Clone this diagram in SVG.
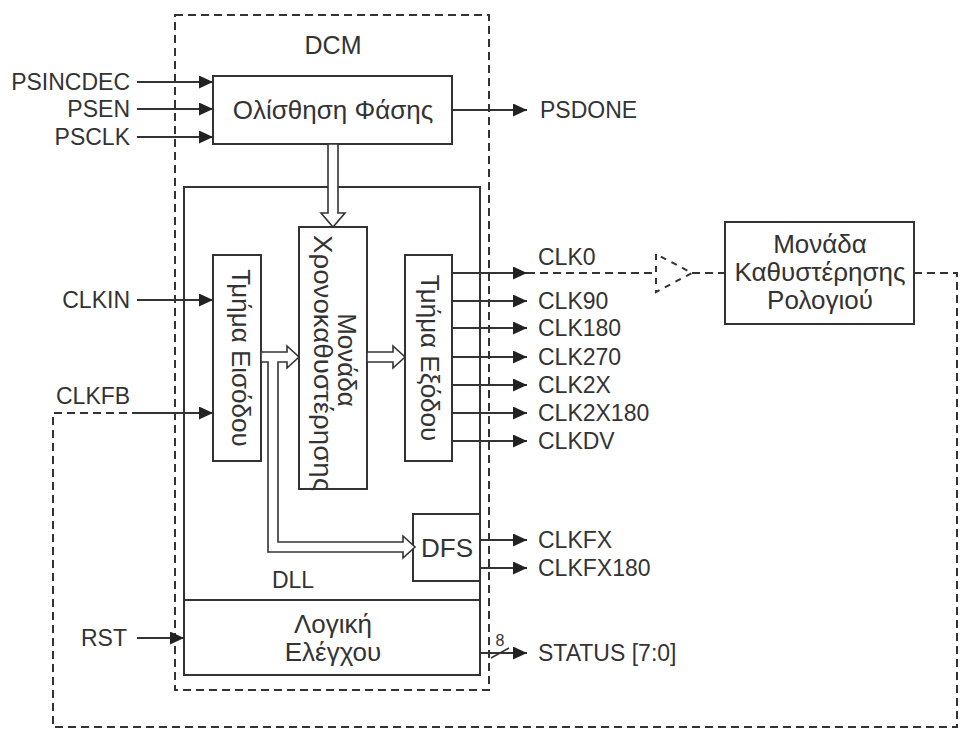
<svg xmlns="http://www.w3.org/2000/svg" width="961" height="735" viewBox="0 0 961 735">
<style>
text{font-family:"Liberation Sans",Arial,sans-serif;fill:#333;}
.lb{font-size:23px;}
.gr{font-size:26px;}
.box{fill:#fff;stroke:#333;stroke-width:2;}
.ln{fill:none;stroke:#333;stroke-width:2;}
.ar{fill:none;stroke:#333;stroke-width:2;marker-end:url(#ah);}
.ds{fill:none;stroke:#333;stroke-width:2;stroke-dasharray:8,5;}
.hol{fill:#fff;stroke:#333;stroke-width:1.6;stroke-linejoin:miter;}
</style>
<defs>
<marker id="ah" markerUnits="userSpaceOnUse" markerWidth="15" markerHeight="13" refX="14" refY="6.5" orient="auto">
<path d="M0,0 L14,6.5 L0,13 z" fill="#222"/>
</marker>
</defs>
<rect width="961" height="735" fill="#fff"/>

<g id="dcm">
<rect x="175" y="15" width="314" height="675" class="ds"/>
<text x="333" y="54" text-anchor="middle" style="font-size:25px">DCM</text>
</g>

<g id="connectors">
<line x1="137" y1="82" x2="213" y2="82" class="ar"/>
<line x1="137" y1="109" x2="213" y2="109" class="ar"/>
<line x1="137" y1="137" x2="213" y2="137" class="ar"/>
<line x1="452" y1="110" x2="527" y2="110" class="ar"/>
<line x1="137" y1="300" x2="213" y2="300" class="ar"/>
<line x1="137" y1="413" x2="213" y2="413" class="ar"/>
<line x1="137" y1="638" x2="184" y2="638" class="ar"/>
<line x1="452" y1="273" x2="527" y2="273" class="ar"/>
<line x1="452" y1="301" x2="527" y2="301" class="ar"/>
<line x1="452" y1="328" x2="527" y2="328" class="ar"/>
<line x1="452" y1="357" x2="527" y2="357" class="ar"/>
<line x1="452" y1="385" x2="527" y2="385" class="ar"/>
<line x1="452" y1="413" x2="527" y2="413" class="ar"/>
<line x1="452" y1="441" x2="527" y2="441" class="ar"/>
<line x1="480" y1="540" x2="527" y2="540" class="ar"/>
<line x1="480" y1="568" x2="527" y2="568" class="ar"/>
<line x1="480" y1="653" x2="527" y2="653" class="ar"/>
<line x1="491" y1="658" x2="509" y2="648" class="ln" style="stroke-width:1.5"/>
<text x="500" y="646" text-anchor="middle" style="font-size:16px">8</text>
<path d="M527,273 H656" class="ds"/>
<path d="M656,254 V292 L692,273 Z" class="ds" style="stroke-dasharray:6,6"/>
<path d="M692,273 H725" class="ds"/>
<path d="M914,273 H957 V727 H53 V413 H137" class="ds"/>
</g>

<g id="phase-shift">
<rect x="213" y="76" width="239" height="68" class="box"/>
<text x="333" y="119" text-anchor="middle" class="gr">Ολίσθηση Φάσης</text>
</g>

<g id="dll">
<rect x="184" y="187" width="296" height="413" class="box" style="fill:none"/>
<text x="293" y="588" text-anchor="middle" class="lb">DLL</text>
</g>

<g id="control-logic">
<rect x="184" y="600" width="296" height="75" class="box" style="fill:none"/>
<text x="333" y="633" text-anchor="middle" class="gr">Λογική</text>
<text x="333" y="661" text-anchor="middle" class="gr">Ελέγχου</text>
</g>

<g id="input-section">
<rect x="213" y="255" width="48" height="206" class="box"/>
<text transform="translate(232,358) rotate(90)" text-anchor="middle" class="gr">Τμήμα Εισόδου</text>
</g>

<g id="delay-unit">
<rect x="299" y="227" width="68" height="262" class="box"/>
<text transform="translate(338,360) rotate(90)" text-anchor="middle" class="gr">Μονάδα</text>
<text transform="translate(314,363) rotate(90)" text-anchor="middle" class="gr" textLength="256" lengthAdjust="spacingAndGlyphs">Χρονοκαθυστέρησης</text>
</g>

<g id="output-section">
<rect x="405" y="255" width="47" height="206" class="box"/>
<text transform="translate(421,358) rotate(90)" text-anchor="middle" class="gr">Τμήμα Εξόδου</text>
</g>

<g id="dfs">
<rect x="413" y="514" width="67" height="67" class="box"/>
<text x="447" y="557" text-anchor="middle" style="font-size:26px">DFS</text>
</g>

<g id="clock-delay">
<rect x="725" y="222" width="189" height="102" class="box"/>
<text x="820" y="253" text-anchor="middle" class="gr">Μονάδα</text>
<text x="820" y="281" text-anchor="middle" class="gr">Καθυστέρησης</text>
<text x="820" y="309" text-anchor="middle" class="gr">Ρολογιού</text>
</g>

<g id="buses">
<path d="M328,144 V213 H321 L333,227 L345,213 H338 V144 Z" class="hol"/>
<path d="M261,352 H287 V346 L299,357 L287,368 V362 H278 V542 H403 V536 L415,547 L403,558 V552 H268 V362 H261 Z" class="hol"/>
<path d="M367,352 H393 V346 L405,357 L393,368 V362 H367 Z" class="hol"/>
</g>

<g id="labels">
<text x="130" y="90" text-anchor="end" class="lb">PSINCDEC</text>
<text x="130" y="117" text-anchor="end" class="lb">PSEN</text>
<text x="130" y="145" text-anchor="end" class="lb">PSCLK</text>
<text x="540" y="118" class="lb">PSDONE</text>
<text x="130" y="308" text-anchor="end" class="lb">CLKIN</text>
<text x="56" y="404" class="lb">CLKFB</text>
<text x="127" y="646" text-anchor="end" class="lb">RST</text>
<text x="538" y="265" class="lb">CLK0</text>
<text x="538" y="309" class="lb">CLK90</text>
<text x="538" y="336" class="lb">CLK180</text>
<text x="538" y="365" class="lb">CLK270</text>
<text x="538" y="393" class="lb">CLK2X</text>
<text x="538" y="421" class="lb">CLK2X180</text>
<text x="538" y="449" class="lb">CLKDV</text>
<text x="538" y="548" class="lb">CLKFX</text>
<text x="538" y="576" class="lb">CLKFX180</text>
<text x="538" y="661" class="lb">STATUS [7:0]</text>
</g>
</svg>
